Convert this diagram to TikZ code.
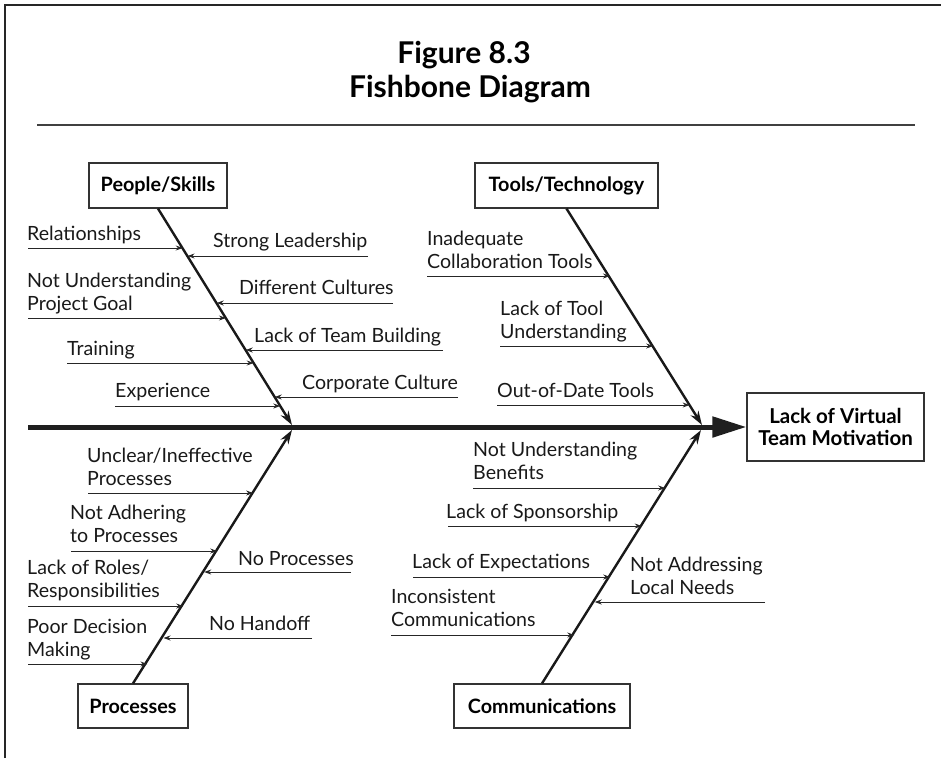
\documentclass[tikz,border=0pt]{standalone}
\usepackage{fontspec}
\setmainfont{Lato}
\usetikzlibrary{arrows.meta}
\begin{document}
\begin{tikzpicture}[x=1pt,y=-1pt,
  lbl/.style={inner sep=0pt, anchor=base west, align=left, font=\fontsize{19.6}{22.5}\selectfont, text=black!90},
  catbox/.style={draw=black!80, line width=1.2pt, inner sep=0pt, font=\bfseries\fontsize{19.8}{22}\selectfont},
  cause/.style={-{Stealth[length=7pt,width=5pt]}, line width=0.9pt, draw=black!85},
  bone/.style={-{Stealth[length=14pt,width=9pt]}, line width=2.4pt, draw=black!90},
  ttl/.style={inner sep=0pt, anchor=base, font=\bfseries\fontsize{30}{34}\selectfont}
]
\useasboundingbox (0,0) rectangle (941,758);
% frame
\coordinate (fa) at (5,758); \coordinate (fb) at (5,5); \coordinate (fc) at (941,5);
\draw[line width=1.3pt, black!85] (fa) -- (fb) -- (fc);
% title
\node[ttl] (title1) at (464,63) {Figure 8.3};
\node[ttl] (title2) at (470,97) {Fishbone Diagram};
\coordinate (ra) at (37,125); \coordinate (rb) at (915,125);
\draw[line width=1.6pt, black!75] (ra) -- (rb);

% category boxes
\node[catbox, minimum width=138pt, minimum height=45pt] (ps) at (158,185.5) {People/Skills};
\node[catbox, minimum width=183pt, minimum height=45pt] (tt) at (566.5,185.5) {Tools/Technology};
\node[catbox, minimum width=110pt, minimum height=44pt] (pr) at (133,706) {Processes};
\node[catbox, minimum width=176pt, minimum height=44pt] (co) at (542,706) {Communications};
\node[catbox, minimum width=177pt, minimum height=68pt, align=center, font=\bfseries\fontsize{20.5}{21.5}\selectfont] (eff) at (835.5,427) {Lack of Virtual\\Team Motivation};

% main line
\coordinate (mstart) at (28,427);
\draw[line width=5pt, black!88, -{Triangle[length=34pt,width=20pt]}] (mstart) -- (eff.west);

% spines
\coordinate (jps) at (292,425);
\coordinate (jtt) at (702,425);
\coordinate (jpr) at (292,430);
\coordinate (jco) at (701,430);
\draw[bone] (ps.south) -- (jps);
\draw[bone] (tt.south) -- (jtt);
\draw[bone] (pr.north) -- (jpr);
\draw[bone] (co.north) -- (jco);

% People/Skills causes
\node[lbl] (l1) at (27,240) {Relationships};
\coordinate (a1) at (28,248); \coordinate (b1) at (182.7,248);
\draw[cause] (a1) -- (b1);
\node[lbl] (l2) at (27,310) {Not Understanding\\Project Goal};
\coordinate (a2) at (28,318); \coordinate (b2) at (225.9,318);
\draw[cause] (a2) -- (b2);
\node[lbl] (l3) at (67,355) {Training};
\coordinate (a3) at (67,363); \coordinate (b3) at (253.7,363);
\draw[cause] (a3) -- (b3);
\node[lbl] (l4) at (115,397) {Experience};
\coordinate (a4) at (115,406); \coordinate (b4) at (280.3,406);
\draw[cause] (a4) -- (b4);
\node[lbl] (l5) at (213,247) {Strong Leadership};
\coordinate (a5) at (368,256); \coordinate (b5) at (187.6,256);
\draw[cause] (a5) -- (b5);
\node[lbl] (l6) at (239,294) {Different Cultures};
\coordinate (a6) at (393,303); \coordinate (b6) at (216.7,303);
\draw[cause] (a6) -- (b6);
\node[lbl] (l7) at (254,342) {Lack of Team Building};
\coordinate (a7) at (443,350); \coordinate (b7) at (245.7,350);
\draw[cause] (a7) -- (b7);
\node[lbl] (l8) at (302,389) {Corporate Culture};
\coordinate (a8) at (458,397); \coordinate (b8) at (274.7,397);
\draw[cause] (a8) -- (b8);

% Tools/Technology causes
\node[lbl] (l9) at (427,268) {Inadequate\\Collaboration Tools};
\coordinate (a9) at (427,276); \coordinate (b9) at (610,276);
\draw[cause] (a9) -- (b9);
\node[lbl] (l10) at (500,338) {Lack of Tool\\Understanding};
\coordinate (a10) at (500,346); \coordinate (b10) at (653.2,346);
\draw[cause] (a10) -- (b10);
\node[lbl] (l11) at (497,397) {Out-of-Date Tools};
\coordinate (a11) at (497,405); \coordinate (b11) at (689.6,405);
\draw[cause] (a11) -- (b11);

% Processes causes
\node[lbl] (l12) at (87,485) {Unclear/Ineffective\\Processes};
\coordinate (a12) at (88,493); \coordinate (b12) at (253.1,493);
\draw[cause] (a12) -- (b12);
\node[lbl] (l13) at (70,542) {Not Adhering\\to Processes};
\coordinate (a13) at (71,551); \coordinate (b13) at (217.2,551);
\draw[cause] (a13) -- (b13);
\node[lbl] (l14) at (27,597) {Lack of Roles/\\Responsibilities};
\coordinate (a14) at (28,606); \coordinate (b14) at (183.2,606);
\draw[cause] (a14) -- (b14);
\node[lbl] (l15) at (27,656) {Poor Decision\\Making};
\coordinate (a15) at (28,664); \coordinate (b15) at (147.4,664);
\draw[cause] (a15) -- (b15);
\node[lbl] (l16) at (238,565) {No Processes};
\coordinate (a16) at (351,572); \coordinate (b16) at (204.2,572);
\draw[cause] (a16) -- (b16);
\node[lbl] (l17) at (209,630) {No Handoff};
\coordinate (a17) at (312,638); \coordinate (b17) at (163.5,638);
\draw[cause] (a17) -- (b17);

% Communications causes
\node[lbl] (l18) at (473,479) {Not Understanding\\Benefits};
\coordinate (a18) at (473,488); \coordinate (b18) at (665.2,488);
\draw[cause] (a18) -- (b18);
\node[lbl] (l19) at (446,518) {Lack of Sponsorship};
\coordinate (a19) at (448,526); \coordinate (b19) at (641.7,526);
\draw[cause] (a19) -- (b19);
\node[lbl] (l20) at (412,568) {Lack of Expectations};
\coordinate (a20) at (413,577); \coordinate (b20) at (610.2,577);
\draw[cause] (a20) -- (b20);
\node[lbl] (l21) at (391,626) {Inconsistent\\Communications};
\coordinate (a21) at (391,635); \coordinate (b21) at (574.3,635);
\draw[cause] (a21) -- (b21);
\node[lbl] (l22) at (630,594) {Not Addressing\\Local Needs};
\coordinate (a22) at (765,602); \coordinate (b22) at (594.7,602);
\draw[cause] (a22) -- (b22);
\end{tikzpicture}
\end{document}
